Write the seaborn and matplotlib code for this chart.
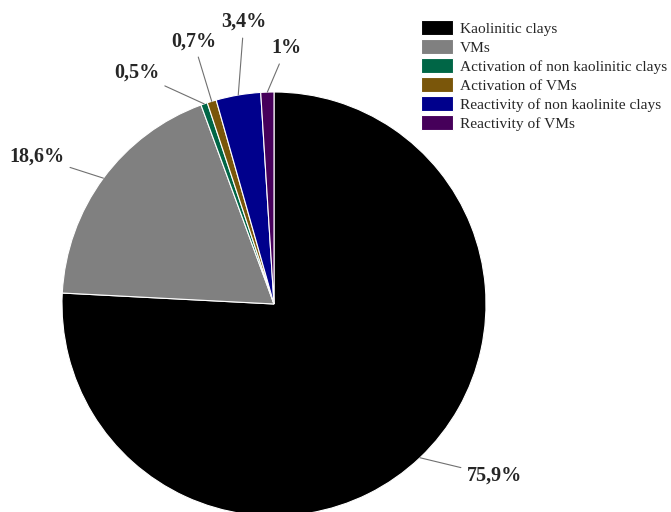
import matplotlib
matplotlib.use("Agg")
import matplotlib.pyplot as plt
import numpy as np
import seaborn as sns

categories = ["Kaolinitic clays", "VMs", "Activation of non kaolinitic clays",
              "Activation of VMs", "Reactivity of non kaolinite clays", "Reactivity of VMs"]
shares = [75.9, 18.6, 0.5, 0.7, 3.4, 1.0]
value_labels = ["75,9%", "18,6%", "0,5%", "0,7%", "3,4%", "1%"]
slice_colors = ["#000000", "#808080", "#006646", "#7a560a", "#00008c", "#46005a"]

# label text positions (pie-radius units) for each slice
label_xy = [(1.04, -0.81), (-1.12, 0.695), (-0.649, 1.09), (-0.380, 1.24), (-0.142, 1.33), (0.057, 1.207)]

sns.set_theme(style="white")
plt.rcParams["font.family"] = ["Liberation Serif", "DejaVu Serif"]

fig = plt.figure(figsize=(6.71, 5.12), dpi=100)
W, H = 671, 512
cx, cy, r = 274, 304, 212
ax = fig.add_axes([(cx - r) / W, (H - cy - r) / H, 2 * r / W, 2 * r / H])

wedges, _ = ax.pie(shares, colors=slice_colors, startangle=90, counterclock=False,
                   radius=1.0, wedgeprops=dict(edgecolor="white", linewidth=0.8))
ax.set_xlim(-1, 1)
ax.set_ylim(-1, 1)
ax.set_aspect("equal")
ax.axis("off")

for w, txt, (tx, ty) in zip(wedges, value_labels, label_xy):
    mid = np.deg2rad((w.theta1 + w.theta2) / 2)
    px, py = np.cos(mid), np.sin(mid)
    ax.annotate(txt, xy=(px, py), xytext=(tx, ty), textcoords="data",
                ha="center", va="center", fontsize=14.5, fontweight="bold",
                annotation_clip=False,
                arrowprops=dict(arrowstyle="-", color="#707070", lw=0.8,
                                shrinkA=2, shrinkB=0))

leg = fig.legend(wedges, categories, loc="upper left",
                 bbox_to_anchor=(421 / W, 1 - 20 / H), frameon=False,
                 fontsize=11.1, handlelength=2.1, handleheight=1.15,
                 labelspacing=0.2, handletextpad=0.4, borderaxespad=0,
                 borderpad=0)

fig.savefig("out.png", dpi=100)
